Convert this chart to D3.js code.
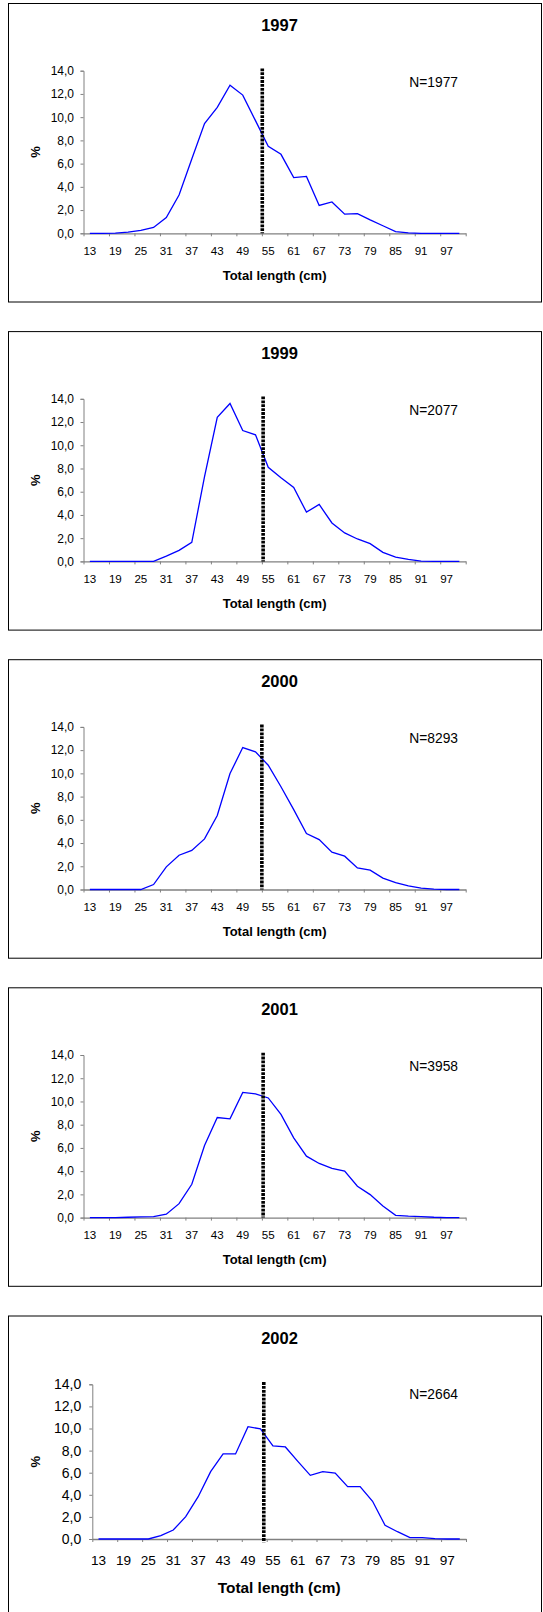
<!DOCTYPE html>
<html><head><meta charset="utf-8">
<script src="https://cdn.jsdelivr.net/npm/d3@7"></script>
<style>html,body{margin:0;padding:0;background:#fff}svg{display:block}</style>
</head><body><svg id="c" width="543" height="1612"></svg>
<script>
// ---------- data ----------
const categories = [13,16,19,22,25,28,31,34,37,40,43,46,49,52,55,58,61,64,67,70,73,76,79,82,85,88,91,94,97,100];
const xLabelCats = [13,19,25,31,37,43,49,55,61,67,73,79,85,91,97];
const yTicks = [0,2,4,6,8,10,12,14];
const years = ["1997","1999","2000","2001","2002"];
const nLabels = ["N=1977","N=2077","N=8293","N=3958","N=2664"];
const s1997 = [0,0,0.02,0.1,0.25,0.5,1.35,3.3,6.4,9.45,10.85,12.75,11.9,9.7,7.5,6.8,4.8,4.9,2.4,2.7,1.65,1.7,1.15,0.65,0.14,0.03,0,0,0,0];
const s1999 = [0,0,0,0,0,0,0.46,0.95,1.64,7.3,12.4,13.6,11.27,10.9,8.1,7.2,6.37,4.24,4.9,3.31,2.45,1.93,1.53,0.78,0.37,0.17,0.03,0,0,0];
const s2000 = [0,0,0,0,0,0.43,1.95,2.95,3.36,4.36,6.37,9.98,12.22,11.85,10.7,8.85,6.88,4.82,4.3,3.21,2.87,1.86,1.66,0.98,0.6,0.32,0.11,0.03,0,0];
const s2001 = [0,0,0,0.03,0.06,0.09,0.29,1.2,2.87,6.2,8.62,8.5,10.78,10.66,10.3,8.88,6.87,5.29,4.66,4.23,4.0,2.7,1.98,1.0,0.2,0.12,0.09,0.03,0,0];
const s2002 = [0,0,0,0,0,0.3,0.81,2.02,3.83,6.1,7.7,7.7,10.17,9.96,8.42,8.33,7.03,5.76,6.1,5.97,4.74,4.74,3.41,1.24,0.66,0.12,0.12,0.03,0,0];
const series = [s1997,s1999,s2000,s2001,s2002];
const refLengths = [53.6,53.8,53.5,53.8,52.8];   // dotted reference length (cm)
const refTop = 14.2;
const refBottoms = [0,0,0,0,-0.3];

// ---------- layout ----------
const panelTops = [3.5, 331.6, 659.7, 987.8, 1316];
const L4 = {x0:83.5, x1:465.7, top:67.2, h:162.6, ytf:12, ytPad:6.5, xtf:11.6, xtOff:21.3, xtitF:13, xtitOff:46.3, nY:83.5};
const L5 = {x0:92.3, x1:466, top:68.3, h:154.7, ytf:14, ytPad:8, xtf:13.6, xtOff:26.3, xtitF:15.4, xtitOff:53.7, nY:83};
const layouts = [L4,L4,L4,L4,L5];
const FONT = "'Liberation Sans', Arial, Helvetica, sans-serif";
const fmt = d => d3.format(".1f")(d).replace(".", ",");

const svg = d3.select("#c");
svg.append("rect").attr("width",543).attr("height",1612).attr("fill","#fff");

years.forEach((yr, p) => {
  const T = panelTops[p], L = layouts[p];
  const g = svg.append("g");
  // frame
  g.append("rect").attr("x",8.5).attr("y",T).attr("width",533).attr("height",p<4?298.5:400)
    .attr("fill","none").attr("stroke","#000").attr("stroke-width",1);

  const yTop = T + L.top, yBot = yTop + L.h;
  const x = d3.scaleBand().domain(categories).range([L.x0, L.x1]).paddingInner(0).paddingOuter(0);
  const xi = d3.scaleLinear().domain([0, categories.length]).range([L.x0, L.x1]);
  const xcm = d3.scaleLinear().domain([categories[0]-1.5, categories[categories.length-1]+1.5]).range([L.x0, L.x1]);
  const y = d3.scaleLinear().domain([0,14]).range([yBot, yTop]);

  // title
  g.append("text").attr("x",279.5).attr("y",T+27.6).attr("text-anchor","middle")
    .attr("font-family",FONT).attr("font-weight","bold").attr("font-size",16.5).text(yr);

  // y axis
  const ya = g.append("g").attr("transform",`translate(${L.x0},0)`)
    .call(d3.axisLeft(y).tickValues(yTicks).tickFormat(fmt).tickSize(3).tickPadding(L.ytPad));
  ya.selectAll("path,line").attr("stroke","#808080");
  ya.selectAll("text").attr("font-family",FONT).attr("font-size",L.ytf).attr("fill","#000");

  // x axis tick marks (between category groups)
  const xm = g.append("g").attr("transform",`translate(0,${yBot})`)
    .call(d3.axisBottom(xi).tickValues(d3.range(0, categories.length+1, 2)).tickFormat("").tickSize(3).tickSizeOuter(0));
  xm.selectAll("path,line").attr("stroke","#808080");
  xm.select("path").attr("stroke-width",1.3);
  // x labels
  const xl = g.append("g").attr("transform",`translate(0,${yBot})`)
    .call(d3.axisBottom(x).tickValues(xLabelCats).tickSize(0).tickPadding(0));
  xl.select("path").remove();
  xl.selectAll("text").attr("font-family",FONT).attr("font-size",L.xtf).attr("fill","#000")
    .attr("dy",null).attr("y",L.xtOff);

  // axis titles
  g.append("text").attr("x",(L.x0+L.x1)/2).attr("y",yBot+L.xtitOff).attr("text-anchor","middle")
    .attr("font-family",FONT).attr("font-weight","bold").attr("font-size",L.xtitF).text("Total length (cm)");
  g.append("text").attr("transform",`translate(35.7,${(yTop+yBot)/2}) rotate(-90)`)
    .attr("text-anchor","middle").attr("dominant-baseline","central")
    .attr("font-family",FONT).attr("font-weight","bold").attr("font-size",13).text("%");

  // N label
  g.append("text").attr("x",458).attr("y",T+L.nY).attr("text-anchor","end")
    .attr("font-family",FONT).attr("font-size",13.8).text(nLabels[p]);

  // data line
  const line = d3.line().x((d,i) => x(categories[i]) + x.bandwidth()/2).y(d => y(d));
  g.append("path").datum(series[p]).attr("d",line).attr("fill","none")
    .attr("stroke","#0000ff").attr("stroke-width",1.3).attr("stroke-linejoin","miter");

  // dotted reference line
  g.append("line").attr("x1",xcm(refLengths[p])).attr("x2",xcm(refLengths[p]))
    .attr("y1",y(refTop)).attr("y2",y(refBottoms[p]))
    .attr("stroke","#000").attr("stroke-width",3.6).attr("stroke-dasharray","2.8,1.1");
});
</script>
</body></html>
